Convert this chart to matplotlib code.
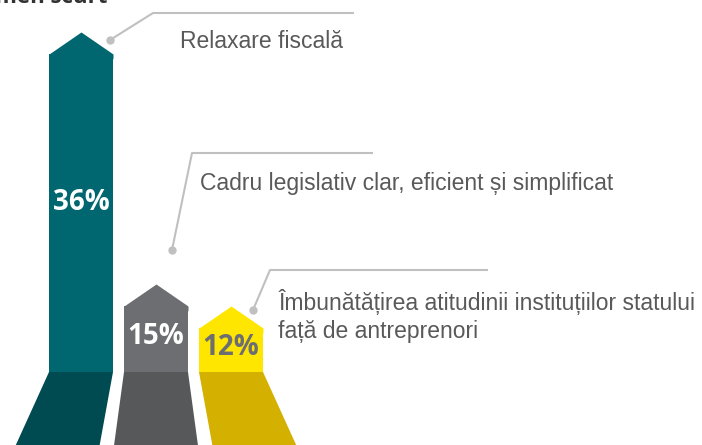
import matplotlib.pyplot as plt
import numpy as np
from matplotlib.path import Path

categories = ['Relaxare fiscală',
              'Cadru legislativ clar, eficient și simplificat',
              'Îmbunătățirea atitudinii instituțiilor statului\nfață de antreprenori']
values = [36, 15, 12]
labels = ['36%', '15%', '12%']

colors = ['#00666f', '#6d6e71', '#ffe600']
floor_colors = ['#004b52', '#57585a', '#d4b000']
label_colors = ['white', 'white', '#6d6e71']
text_color = '#595959'
line_color = '#c0c0c0'

W, H = 702, 445
base_px = 372  # baseline of the bars, in pixels from top
step = 75.0    # pixels between bar centres
bw = 64 / step
x0 = 81 / step
xlim = (-x0, (W - 81) / step)

# bars are drawn on a power-scaled axis (the original is not linear)
p = 1.8
def fwd(v):
    v = np.asarray(v, dtype=float)
    return np.sign(v) * np.abs(v) ** p
def inv(v):
    v = np.asarray(v, dtype=float)
    return np.sign(v) * np.abs(v) ** (1 / p)

fig = plt.figure(figsize=(W / 100, H / 100), dpi=100)

ax = fig.add_axes([0, (H - base_px) / H, 1, base_px / H])
ax.set_yscale('function', functions=(fwd, inv))
ax.set_xlim(*xlim)
ax.set_ylim(0, 39.3)
ax.axis('off')

x = np.arange(len(values))
ax.bar(x, values, width=bw, color=colors, linewidth=0)

roof = Path([(-1, -0.15), (-1, 0), (0, 0.6875), (1, 0), (1, -0.15), (-1, -0.15)])
for i, v in enumerate(values):
    ax.plot(i, v, marker=roof, markersize=64 * 0.72, color=colors[i],
            markeredgewidth=0, linestyle='none', clip_on=False)
    ax.annotate(labels[i], xy=(i, inv(0.531 * fwd(v))), xytext=(0, 3),
                textcoords='offset points', ha='center', va='center_baseline',
                fontsize=20, fontweight='bold', family=['Open Sans', 'DejaVu Sans'],
                color=label_colors[i])

# perspective floor under the bars
axf = fig.add_axes([0, 0, 1, (H - base_px) / H])
axf.set_xlim(*xlim)
axf.set_ylim(0, 1)
axf.axis('off')
vp = 1.0
spread = 1.31
for i in range(len(values)):
    l, r = i - bw / 2, i + bw / 2
    bl, br = vp + (l - vp) * spread, vp + (r - vp) * spread
    axf.fill([l, r, br, bl], [1, 1, 0, 0], color=floor_colors[i], linewidth=0)

# callouts in pixel coordinates
axo = fig.add_axes([0, 0, 1, 1])
axo.set_xlim(0, W)
axo.set_ylim(H, 0)
axo.axis('off')

callouts = [
    [(110, 40), (153, 13), (354, 13), (180, 48)],
    [(172, 250), (192, 153), (373, 153), (200, 190)],
    [(253, 310), (270, 270), (488, 270), (278, 310)],
]
for (d, c, e, t), name in zip(callouts, categories):
    axo.plot([d[0], c[0], e[0]], [d[1], c[1], e[1]], color=line_color, lw=1.5,
             solid_capstyle='butt')
    axo.plot(d[0], d[1], 'o', color=line_color, markersize=6, markeredgewidth=0)
    for k, ln in enumerate(name.split('\n')):
        axo.text(t[0], t[1] + 28 * k, ln, ha='left', va='baseline', fontsize=16.5,
                 family=['Liberation Sans', 'DejaVu Sans'], color=text_color)

# title cut off at the top edge
axo.text(107, 3, 'pe termen scurt', ha='right', va='baseline', fontsize=16,
         fontweight='bold', family=['Open Sans', 'DejaVu Sans'], color='#333333')

fig.savefig('out.png', dpi=100)
